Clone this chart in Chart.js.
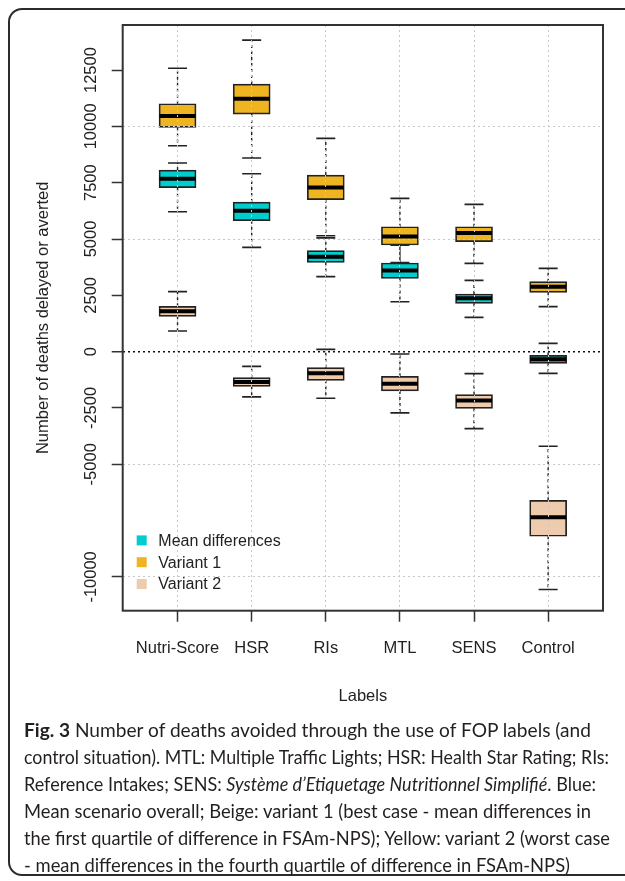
<!DOCTYPE html>
<html>
<head>
<meta charset="utf-8">
<script src="https://cdn.jsdelivr.net/npm/chart.js@4/dist/chart.umd.min.js"></script>
<style>
  html, body { margin: 0; padding: 0; background: #fff; }
  body { width: 625px; height: 881px; position: relative; overflow: hidden; }
  #frame {
    position: absolute; left: 8px; top: 8px; width: 660px; height: 868px;
    border: 2px solid #2b2b2b; border-radius: 14px; box-sizing: border-box;
  }
  #wrap { position: absolute; left: 0; top: 0; width: 625px; height: 720px; }
  #caption {
    position: absolute; left: 24px; top: 716px;
    font-family: Lato, "Open Sans", sans-serif; font-size: 19.5px; color: #231f20;
  }
  .ln { white-space: nowrap; height: 27.1px; line-height: 27.1px; transform-origin: 0 50%; }
</style>
</head>
<body>
<div id="frame"></div>
<div id="wrap"><canvas id="chart" width="625" height="720"></canvas></div>
<div id="caption">
  <div class="ln" data-w="567"><b>Fig. 3</b> Number of deaths avoided through the use of FOP labels (and</div>
  <div class="ln" data-w="585">control situation). MTL: Multiple Traffic Lights; HSR: Health Star Rating; RIs:</div>
  <div class="ln" data-w="572">Reference Intakes; SENS: <i>Système d’Etiquetage Nutritionnel Simplifié</i>. Blue:</div>
  <div class="ln" data-w="567">Mean scenario overall; Beige: variant 1 (best case - mean differences in</div>
  <div class="ln" data-w="586">the first quartile of difference in FSAm-NPS); Yellow: variant 2 (worst case</div>
  <div class="ln" data-w="546">- mean differences in the fourth quartile of difference in FSAm-NPS)</div>
</div>
<script>
// categories
const labels = ['Nutri-Score', 'HSR', 'RIs', 'MTL', 'SENS', 'Control'];

// y axis ticks (R draws no -7500)
const yTicks = [-10000, -5000, -2500, 0, 2500, 5000, 7500, 10000, 12500];

// mean differences
const meanMin = [6212, 4628, 3328, 2218, 1522, -963];
const meanQ1  = [7277, 5812, 3962, 3252, 2143, -519];
const meanMed = [7676, 6256, 4215, 3607, 2365, -342];
const meanQ3  = [8062, 6642, 4481, 3935, 2560, -164];
const meanMax = [8372, 7898, 5050, 4720, 3164, 368];

// variant 1
const v1Min = [9140, 8594, 5147, 3950, 3918, 1997];
const v1Q1  = [9953, 10547, 6744, 4734, 4881, 2631];
const v1Med = [10457, 11226, 7290, 5116, 5266, 2884];
const v1Q3  = [11004, 11878, 7840, 5546, 5546, 3106];
const v1Max = [12577, 13830, 9465, 6802, 6536, 3696];

// variant 2
const v2Min = [918, -2010, -2072, -2720, -3416, -10560];
const v2Q1  = [1566, -1540, -1273, -1744, -2516, -8195];
const v2Med = [1788, -1346, -962, -1420, -2174, -7352];
const v2Q3  = [2010, -1154, -710, -1095, -1908, -6598];
const v2Max = [2662, -652, 102, -102, -976, -4202];

const series = [
  { name: 'Mean differences', color: '#00CDCD', min: meanMin, q1: meanQ1, med: meanMed, q3: meanQ3, max: meanMax },
  { name: 'Variant 1', color: '#EEB422', min: v1Min, q1: v1Q1, med: v1Med, q3: v1Q3, max: v1Max },
  { name: 'Variant 2', color: '#EECBAD', min: v2Min, q1: v2Q1, med: v2Med, q3: v2Q3, max: v2Max }
];

const BOX_W = 37;
const ink = '#222';

// build datasets for one box series
function boxDatasets(s) {
  const whisk = [];
  const caps = [];
  labels.forEach((l, i) => {
    const x = i + 1;
    whisk.push({ x: x, y: s.q3[i] }, { x: x, y: s.max[i] }, { x: x, y: null });
    whisk.push({ x: x, y: s.q1[i] }, { x: x, y: s.min[i] }, { x: x, y: null });
    caps.push({ x: x, y: s.min[i] }, { x: x, y: s.max[i] });
  });
  return [
    {
      type: 'line', label: s.name + ' whiskers', data: whisk, order: 10,
      borderColor: ink, borderWidth: 1.4, borderDash: [3, 3],
      pointRadius: 0, spanGaps: false, fill: false
    },
    {
      type: 'bar', label: s.name, order: 5, grouped: false,
      data: labels.map((l, i) => ({ x: i + 1, y: [s.q1[i], s.q3[i]] })),
      backgroundColor: s.color, borderColor: ink, borderWidth: 1.7,
      borderSkipped: false, barThickness: BOX_W
    },
    {
      type: 'scatter', label: s.name + ' median', order: 2,
      data: labels.map((l, i) => ({ x: i + 1, y: s.med[i] })),
      pointStyle: 'line', pointRadius: BOX_W / 2 - 0.5, pointHoverRadius: BOX_W / 2 - 0.5,
      borderColor: '#000', borderWidth: 4
    },
    {
      type: 'scatter', label: s.name + ' caps', order: 1, data: caps,
      pointStyle: 'line', pointRadius: 9.5, pointHoverRadius: 9.5,
      borderColor: ink, borderWidth: 1.6
    }
  ];
}

let datasets = [];
series.forEach(s => { datasets = datasets.concat(boxDatasets(s)); });

// y tick labels rotated like R, box around plot, legend
const rPlot = {
  id: 'rPlot',
  afterDraw(chart) {
    const ctx = chart.ctx;
    const a = chart.chartArea;
    const y = chart.scales.y;
    ctx.save();
    ctx.fillStyle = '#222';
    ctx.font = '16.5px "Liberation Sans", Arial, sans-serif';
    ctx.textAlign = 'center';
    ctx.textBaseline = 'middle';
    yTicks.forEach(v => {
      ctx.save();
      ctx.translate(91, y.getPixelForValue(v));
      ctx.rotate(-Math.PI / 2);
      ctx.fillText(String(v), 0, 0);
      ctx.restore();
    });
    ctx.strokeStyle = '#333';
    ctx.lineWidth = 2;
    ctx.strokeRect(a.left, a.top, a.right - a.left, a.bottom - a.top);

    // legend
    ctx.textAlign = 'left';
    ctx.font = '16px "Liberation Sans", Arial, sans-serif';
    series.forEach((s, i) => {
      const cy = a.bottom - 70.3 + i * 21.8;
      ctx.fillStyle = s.color;
      ctx.fillRect(a.left + 14, cy - 5, 10, 10);
      ctx.fillStyle = '#222';
      ctx.fillText(s.name, a.left + 35.6, cy + 1);
    });
    ctx.restore();
  }
};

new Chart(document.getElementById('chart'), {
  type: 'scatter',
  data: { datasets: datasets },
  options: {
    responsive: false,
    animation: false,
    layout: { padding: { left: 0, top: 25, right: 18.3, bottom: 0 } },
    plugins: { legend: { display: false }, tooltip: { enabled: false } },
    scales: {
      x: {
        type: 'linear', min: 0.26, max: 6.74, offset: false,
        afterBuildTicks: sc => { sc.ticks = labels.map((l, i) => ({ value: i + 1 })); },
        afterFit: sc => { sc.height = 109.3; },
        ticks: {
          color: '#222', padding: 16.7, autoSkip: false, maxRotation: 0,
          font: { family: '"Liberation Sans", Arial, sans-serif', size: 16.5 },
          callback: v => labels[v - 1]
        },
        grid: {
          offset: false, z: 1, color: '#c8c8c8', lineWidth: 1,
          tickColor: '#333', tickLength: 11, tickWidth: 1.5
        },
        border: { display: false, dash: [2, 3] },
        title: {
          display: true, text: 'Labels', color: '#222',
          font: { family: '"Liberation Sans", Arial, sans-serif', size: 16.5 },
          padding: { top: 0, bottom: 13.7 }
        }
      },
      y: {
        type: 'linear', min: -11500, max: 14500,
        afterBuildTicks: sc => { sc.ticks = yTicks.map(v => ({ value: v })); },
        afterFit: sc => { sc.width = 122.7; },
        ticks: { display: false },
        grid: {
          z: 1,
          color: c => {
            const v = c.tick ? c.tick.value : 1;
            if (v === 0) return '#111';
            return v % 5000 === 0 ? '#c8c8c8' : 'rgba(0,0,0,0)';
          },
          lineWidth: c => (c.tick && c.tick.value === 0 ? 1.5 : 1),
          tickColor: '#333', tickLength: 11, tickWidth: 1.5
        },
        border: { display: false, dash: [2, 3] },
        title: {
          display: true, text: 'Number of deaths delayed or averted', color: '#222',
          font: { family: '"Liberation Sans", Arial, sans-serif', size: 16.5 },
          padding: { top: 33.2, bottom: 0 }
        }
      }
    }
  },
  plugins: [rPlot]
});

// squeeze caption lines to the widths of the reference
document.querySelectorAll('.ln').forEach(el => {
  const span = document.createElement('span');
  span.innerHTML = el.innerHTML;
  el.innerHTML = '';
  el.appendChild(span);
  const w = span.getBoundingClientRect().width;
  const target = parseFloat(el.dataset.w);
  el.style.transform = 'scaleX(' + (target / w) + ')';
});
</script>
</body>
</html>
